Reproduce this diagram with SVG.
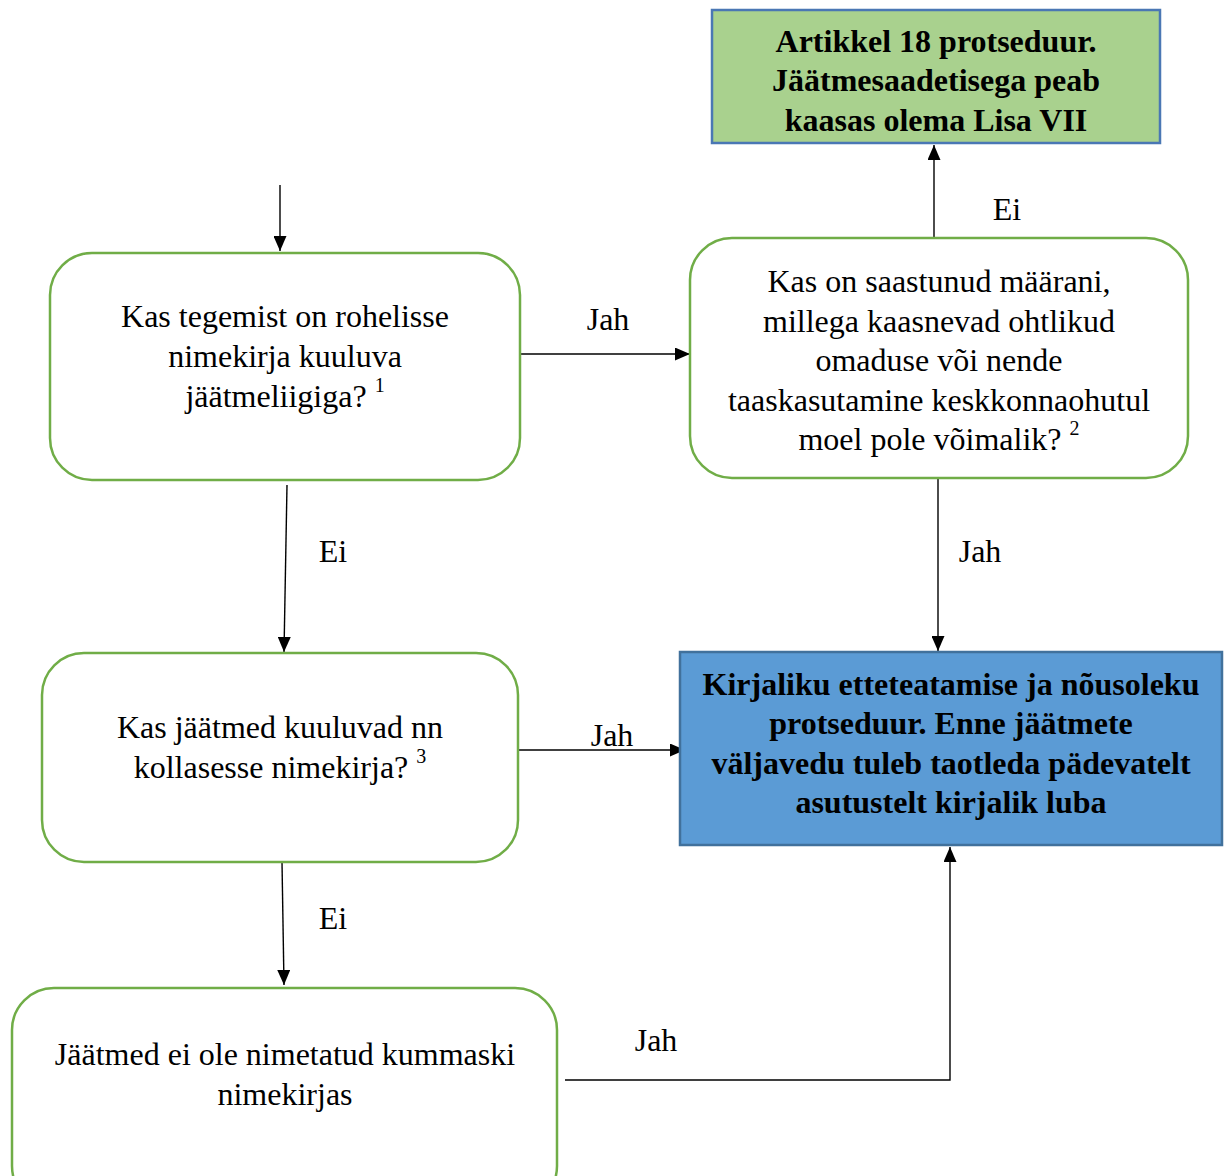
<svg xmlns="http://www.w3.org/2000/svg" width="1232" height="1176" viewBox="0 0 1232 1176">
<style>
.t{font-family:"Liberation Serif","Times New Roman",serif;font-size:32px;fill:#000;text-anchor:middle}
.b{font-weight:bold}
.r{fill:#fff;stroke:#70ad47;stroke-width:2.5}
.c{fill:none;stroke:#000;stroke-width:1.4}
.sup{font-size:20px}
</style>
<defs>
<marker id="ah" viewBox="0 0 15 13" refX="15" refY="6.5" markerWidth="15" markerHeight="13" markerUnits="userSpaceOnUse" orient="auto">
<path d="M0,0 L15,6.5 L0,13 Z" fill="#000"/>
</marker>
</defs>
<rect width="1232" height="1176" fill="#fff"/>

<g id="connectors">
<line class="c" x1="280" y1="185" x2="280" y2="251" marker-end="url(#ah)"/>
<line class="c" x1="516" y1="354" x2="690" y2="354" marker-end="url(#ah)"/>
<line class="c" x1="934" y1="238" x2="934" y2="145" marker-end="url(#ah)"/>
<line class="c" x1="938" y1="478" x2="938" y2="651" marker-end="url(#ah)"/>
<line class="c" x1="287" y1="485" x2="284" y2="652" marker-end="url(#ah)"/>
<line class="c" x1="518" y1="750" x2="685" y2="750" marker-end="url(#ah)"/>
<line class="c" x1="282" y1="862" x2="284" y2="985" marker-end="url(#ah)"/>
<polyline class="c" points="565,1080 950,1080 950,847" marker-end="url(#ah)"/>
<text class="t" x="1007" y="220">Ei</text>
<text class="t" x="608" y="330">Jah</text>
<text class="t" x="333" y="562">Ei</text>
<text class="t" x="980" y="562">Jah</text>
<text class="t" x="612" y="746">Jah</text>
<text class="t" x="333" y="929">Ei</text>
<text class="t" x="656" y="1051">Jah</text>
</g>

<g id="n_artikkel">
<rect x="712" y="10" width="448" height="133" fill="#a9d18e" stroke="#4a77b4" stroke-width="2.5"/>
<text class="t b" x="936" y="52">Artikkel 18 protseduur.</text>
<text class="t b" x="936" y="91">Jäätmesaadetisega peab</text>
<text class="t b" x="936" y="131">kaasas olema Lisa VII</text>
</g>

<g id="n_roheline">
<rect class="r" x="50" y="253" width="470" height="227" rx="42"/>
<text class="t" x="285" y="327">Kas tegemist on rohelisse</text>
<text class="t" x="285" y="367">nimekirja kuuluva</text>
<text class="t" x="285" y="407">jäätmeliigiga? <tspan class="sup" dy="-15">1</tspan></text>
</g>

<g id="n_saastunud">
<rect class="r" x="690" y="238" width="498" height="240" rx="42"/>
<text class="t" x="939" y="292">Kas on saastunud määrani,</text>
<text class="t" x="939" y="332">millega kaasnevad ohtlikud</text>
<text class="t" x="939" y="371">omaduse või nende</text>
<text class="t" x="939" y="411">taaskasutamine keskkonnaohutul</text>
<text class="t" x="939" y="450">moel pole võimalik? <tspan class="sup" dy="-15">2</tspan></text>
</g>

<g id="n_kirjalik">
<rect x="680" y="652" width="542" height="193" fill="#5b9bd5" stroke="#41719c" stroke-width="2.5"/>
<text class="t b" x="951" y="695">Kirjaliku etteteatamise ja nõusoleku</text>
<text class="t b" x="951" y="734">protseduur. Enne jäätmete</text>
<text class="t b" x="951" y="774">väljavedu tuleb taotleda pädevatelt</text>
<text class="t b" x="951" y="813">asutustelt kirjalik luba</text>
</g>

<g id="n_kollane">
<rect class="r" x="42" y="653" width="476" height="209" rx="42"/>
<text class="t" x="280" y="738">Kas jäätmed kuuluvad nn</text>
<text class="t" x="280" y="778">kollasesse nimekirja? <tspan class="sup" dy="-15">3</tspan></text>
</g>

<g id="n_kummaski">
<rect class="r" x="12" y="988" width="545" height="220" rx="42"/>
<text class="t" x="285" y="1065">Jäätmed ei ole nimetatud kummaski</text>
<text class="t" x="285" y="1105">nimekirjas</text>
</g>
</svg>
